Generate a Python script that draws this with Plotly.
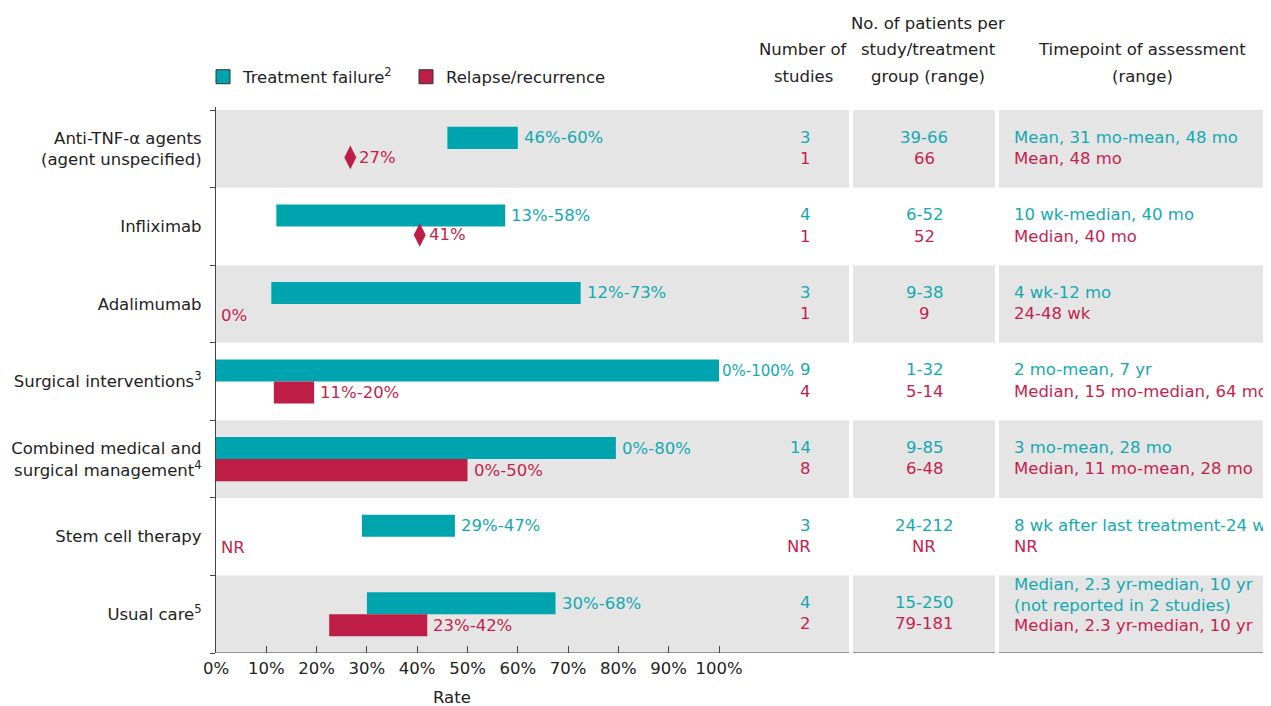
import plotly.graph_objects as go

# ---------------- data ----------------
categories = [
    "Anti-TNF-α agents<br>(agent unspecified)",
    "Infliximab",
    "Adalimumab",
    "Surgical interventions<sup>3</sup>",
    "Combined medical and<br>surgical management<sup>4</sup>",
    "Stem cell therapy",
    "Usual care<sup>5</sup>",
]
tf_low = [46, 12, 11, 0, 0, 29, 30]
tf_high = [60, 57.5, 72.5, 100, 79.5, 47.5, 67.5]
tf_labels = ["46%-60%", "13%-58%", "12%-73%", "0%-100%", "0%-80%", "29%-47%", "30%-68%"]

rr_low = [None, None, None, 11.5, 0, None, 22.5]
rr_high = [None, None, None, 19.5, 50, None, 42]
rr_point = [26.7, 40.5, None, None, None, None, None]
rr_labels = ["27%", "41%", "0%", "11%-20%", "0%-50%", "NR", "23%-42%"]

n_studies_tf = ["3", "4", "3", "9", "14", "3", "4"]
n_studies_rr = ["1", "1", "1", "4", "8", "NR", "2"]
patients_tf = ["39-66", "6-52", "9-38", "1-32", "9-85", "24-212", "15-250"]
patients_rr = ["66", "52", "9", "5-14", "6-48", "NR", "79-181"]
time_tf = [
    "Mean, 31 mo-mean, 48 mo",
    "10 wk-median, 40 mo",
    "4 wk-12 mo",
    "2 mo-mean, 7 yr",
    "3 mo-mean, 28 mo",
    "8 wk after last treatment-24 wk",
    "Median, 2.3 yr-median, 10 yr<br>(not reported in 2 studies)",
]
time_rr = [
    "Mean, 48 mo",
    "Median, 40 mo",
    "24-48 wk",
    "Median, 15 mo-median, 64 mo",
    "Median, 11 mo-mean, 28 mo",
    "NR",
    "Median, 2.3 yr-median, 10 yr",
]

header_studies = ["Number of", "studies"]
header_patients = ["No. of patients per", "study/treatment", "group (range)"]
header_time = ["Timepoint of assessment", "(range)"]
x_ticks = [0, 10, 20, 30, 40, 50, 60, 70, 80, 90, 100]

# ---------------- style ----------------
TEAL = "#00a4ae"
TEAL_TXT = "#14a9b1"
CRIM = "#be1e46"
CRIM_TXT = "#c41f4f"
AXC = "#444444"
GRAY = "#e5e5e5"
FONT = "DejaVu Sans"
FS = 16.5

OFF = 8                      # page body margin
VW, VH = 1271, 706           # window size (reference pixel space)
W, H = VW - OFF, VH - OFF    # figure size
L_PX, TOP_PX, BOT_PX = 216, 107, 653   # reference-space pixels
PX_PER_PCT = 5.03
XMAX = (VW - L_PX) / PX_PER_PCT
n = len(categories)
YTOP = 7.04

def px_x(px):
    return (px - L_PX) / (VW - L_PX)

def px_y(py):
    return (BOT_PX - py) / (BOT_PX - TOP_PX)

centers = [n - 0.5 - i for i in range(n)]
BW = 0.284
y_tf = [c + BW / 2 for c in centers]
y_rr = [c - BW / 2 for c in centers]

fig = go.Figure()

# bars
fig.add_trace(go.Bar(
    orientation="h", y=y_tf, base=tf_low,
    x=[h - l for l, h in zip(tf_low, tf_high)],
    width=BW, marker=dict(color=TEAL, line=dict(width=0)),
    showlegend=False, hoverinfo="skip",
))
fig.add_trace(go.Bar(
    orientation="h", y=y_rr, base=rr_low,
    x=[(h - l) if (l is not None and h is not None) else None for l, h in zip(rr_low, rr_high)],
    width=BW, marker=dict(color=CRIM, line=dict(width=0)),
    showlegend=False, hoverinfo="skip",
))
# single-value relapse points (diamonds)
fig.add_trace(go.Scatter(
    x=[p for p in rr_point if p is not None],
    y=[c - 0.11 for c, p in zip(centers, rr_point) if p is not None],
    mode="markers",
    marker=dict(symbol="diamond-tall", size=17, color=CRIM),
    showlegend=False, hoverinfo="skip",
))
# legend entries
fig.add_trace(go.Scatter(
    x=[None], y=[None], mode="markers", name="Treatment failure<sup>2</sup>",
    marker=dict(symbol="square", size=14, color=TEAL, line=dict(color="#333", width=1)),
))
fig.add_trace(go.Scatter(
    x=[None], y=[None], mode="markers", name="Relapse/recurrence",
    marker=dict(symbol="square", size=14, color=CRIM, line=dict(color="#333", width=1)),
))

shapes = []
# grey bands
seg = [(L_PX, 849), (853, 995), (999, VW + 2)]
for i in range(0, n, 2):
    y0 = n - 1 - i
    for a, b in seg:
        shapes.append(dict(type="rect", xref="paper", yref="y", x0=px_x(a), x1=px_x(b),
                           y0=y0, y1=y0 + 1, fillcolor=GRAY, line=dict(width=0), layer="below"))
# bottom axis lines per column
for a, b in seg:
    shapes.append(dict(type="line", xref="paper", yref="y", x0=px_x(a), x1=px_x(b),
                       y0=0, y1=0, line=dict(color=AXC, width=1.2)))

ann = []
def txt(x, y, s, color, xanchor="left", xref="paper", yref="y", xshift=0, yshift=0, size=FS):
    ann.append(dict(x=x, y=y, xref=xref, yref=yref, text=s, showarrow=False,
                    xanchor=xanchor, yanchor="middle", xshift=xshift, yshift=yshift,
                    align=xanchor if xanchor != "center" else "center",
                    font=dict(family=FONT, size=size, color=color)))

# bar labels
for i in range(n):
    if tf_high[i] >= 100:
        txt(tf_high[i], y_tf[i], tf_labels[i], TEAL_TXT, xref="x", xshift=1, size=15)
    else:
        txt(tf_high[i], y_tf[i], tf_labels[i], TEAL_TXT, xref="x", xshift=4)
    if rr_high[i] is not None:
        txt(rr_high[i], y_rr[i], rr_labels[i], CRIM_TXT, xref="x", xshift=4)
    elif rr_point[i] is not None:
        txt(rr_point[i], centers[i] - 0.11, rr_labels[i], CRIM_TXT, xref="x", xshift=7)
    else:
        txt(0, y_rr[i], rr_labels[i], CRIM_TXT, xref="x", xshift=3)

# table columns
for i in range(n):
    yt = centers[i] + 0.15
    yr = centers[i] - 0.125
    txt(px_x(813), yt, n_studies_tf[i], TEAL_TXT, xanchor="right")
    txt(px_x(813), yr, n_studies_rr[i], CRIM_TXT, xanchor="right")
    txt(px_x(924), yt, patients_tf[i], TEAL_TXT, xanchor="center")
    txt(px_x(924), yr, patients_rr[i], CRIM_TXT, xanchor="center")
    nl = time_tf[i].count("<br>")
    txt(px_x(1012), yt, time_tf[i], TEAL_TXT, yshift=nl * 8)
    txt(px_x(1012), yr, time_rr[i], CRIM_TXT, yshift=-nl * 2)

# headers
for k, s in enumerate(header_patients):
    txt(px_x(928), px_y(23 + 27 * k), s, "#222", xanchor="center", yref="paper")
for k, s in enumerate(header_studies):
    txt(px_x(803), px_y(50 + 27 * k), s, "#222", xanchor="center", yref="paper")
for k, s in enumerate(header_time):
    txt(px_x(1142), px_y(50 + 27 * k), s, "#222", xanchor="center", yref="paper")
# x axis title
txt(px_x(452), px_y(697), "Rate", "#222", xanchor="center", yref="paper")

fig.update_layout(
    template="none",
    width=W, height=H,
    margin=dict(l=L_PX - OFF, r=0, t=TOP_PX - OFF, b=VH - BOT_PX, pad=0),
    paper_bgcolor="white", plot_bgcolor="white",
    barmode="overlay",
    font=dict(family=FONT, size=FS, color="#222"),
    showlegend=True,
    legend=dict(orientation="h", x=px_x(203), y=px_y(77), xanchor="left", yanchor="middle",
                font=dict(family=FONT, size=FS, color="#222"), bgcolor="rgba(0,0,0,0)",
                borderwidth=0, entrywidth=158, entrywidthmode="pixels", itemclick=False),
    shapes=shapes,
    annotations=ann,
    xaxis=dict(range=[0, XMAX], tickvals=x_ticks, ticktext=[f"{v}%" for v in x_ticks],
               ticks="inside", ticklen=7, tickcolor=AXC, tickwidth=1, ticklabelstandoff=3,
               showline=False, showgrid=False, zeroline=False, automargin=False,
               tickfont=dict(family=FONT, size=FS, color="#222"), fixedrange=True),
    yaxis=dict(range=[0, YTOP], tickvals=centers, ticktext=categories, ticks="",
               showline=True, linecolor=AXC, linewidth=1.2, showgrid=False, zeroline=False,
               automargin=False, ticklabelstandoff=10,
               minor=dict(tickvals=list(range(n + 1)), ticks="outside", ticklen=5,
                          tickcolor=AXC, tickwidth=1, showgrid=False),
               tickfont=dict(family=FONT, size=FS, color="#222"), fixedrange=True),
)

fig.write_html("out.html")
